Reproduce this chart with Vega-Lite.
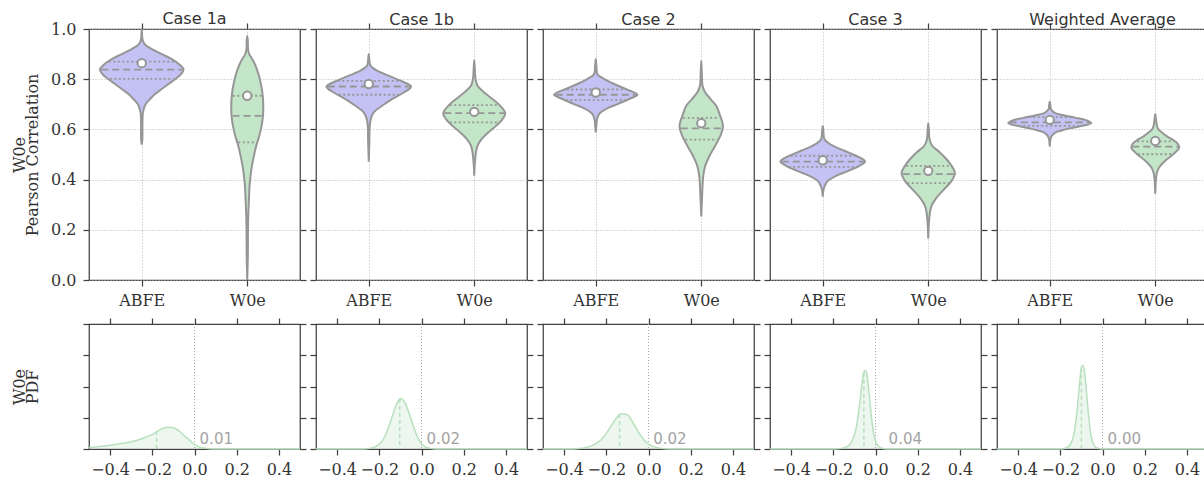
{
"$schema": "https://vega.github.io/schema/vega-lite/v6.json",
"background": "white",
"padding": {"left": 10, "top": 10, "right": 5, "bottom": 5},
"columns": 5,
"bounds": "flush",
"spacing": {"row": 44, "column": 16},
"datasets": {
"vio": [
{"c":"1a","m":"ABFE","y":0.539,"w":0},{"c":"1a","m":"ABFE","y":0.56,"w":0.06},{"c":"1a","m":"ABFE","y":0.62,"w":0.07},{"c":"1a","m":"ABFE","y":0.661,"w":0.1},{"c":"1a","m":"ABFE","y":0.681,"w":0.2},{"c":"1a","m":"ABFE","y":0.701,"w":0.4},{"c":"1a","m":"ABFE","y":0.721,"w":0.83},{"c":"1a","m":"ABFE","y":0.741,"w":1.33},{"c":"1a","m":"ABFE","y":0.761,"w":2},{"c":"1a","m":"ABFE","y":0.781,"w":2.67},{"c":"1a","m":"ABFE","y":0.8,"w":3.33},{"c":"1a","m":"ABFE","y":0.82,"w":3.93},{"c":"1a","m":"ABFE","y":0.84,"w":4.17},{"c":"1a","m":"ABFE","y":0.86,"w":3.73},{"c":"1a","m":"ABFE","y":0.88,"w":3},{"c":"1a","m":"ABFE","y":0.9,"w":2},{"c":"1a","m":"ABFE","y":0.92,"w":1},{"c":"1a","m":"ABFE","y":0.935,"w":0.4},{"c":"1a","m":"ABFE","y":0.947,"w":0.17},{"c":"1a","m":"ABFE","y":0.96,"w":0.07},{"c":"1a","m":"ABFE","y":0.997,"w":0},
{"c":"1a","m":"ABFE","y":0.96,"w":-0.07},{"c":"1a","m":"ABFE","y":0.947,"w":-0.17},{"c":"1a","m":"ABFE","y":0.935,"w":-0.4},{"c":"1a","m":"ABFE","y":0.92,"w":-1},{"c":"1a","m":"ABFE","y":0.9,"w":-2},{"c":"1a","m":"ABFE","y":0.88,"w":-3},{"c":"1a","m":"ABFE","y":0.86,"w":-3.73},{"c":"1a","m":"ABFE","y":0.84,"w":-4.17},{"c":"1a","m":"ABFE","y":0.82,"w":-3.93},{"c":"1a","m":"ABFE","y":0.8,"w":-3.33},{"c":"1a","m":"ABFE","y":0.781,"w":-2.67},{"c":"1a","m":"ABFE","y":0.761,"w":-2},{"c":"1a","m":"ABFE","y":0.741,"w":-1.33},{"c":"1a","m":"ABFE","y":0.721,"w":-0.83},{"c":"1a","m":"ABFE","y":0.701,"w":-0.4},{"c":"1a","m":"ABFE","y":0.681,"w":-0.2},{"c":"1a","m":"ABFE","y":0.661,"w":-0.1},{"c":"1a","m":"ABFE","y":0.62,"w":-0.07},{"c":"1a","m":"ABFE","y":0.56,"w":-0.06},{"c":"1a","m":"ABFE","y":0.539,"w":0},
{"c":"1a","m":"W0e","y":0.0,"w":0},{"c":"1a","m":"W0e","y":0.1,"w":0.06},{"c":"1a","m":"W0e","y":0.189,"w":0.07},{"c":"1a","m":"W0e","y":0.255,"w":0.1},{"c":"1a","m":"W0e","y":0.322,"w":0.17},{"c":"1a","m":"W0e","y":0.375,"w":0.23},{"c":"1a","m":"W0e","y":0.415,"w":0.33},{"c":"1a","m":"W0e","y":0.455,"w":0.47},{"c":"1a","m":"W0e","y":0.495,"w":0.67},{"c":"1a","m":"W0e","y":0.535,"w":0.9},{"c":"1a","m":"W0e","y":0.574,"w":1.2},{"c":"1a","m":"W0e","y":0.614,"w":1.43},{"c":"1a","m":"W0e","y":0.654,"w":1.57},{"c":"1a","m":"W0e","y":0.694,"w":1.6},{"c":"1a","m":"W0e","y":0.734,"w":1.55},{"c":"1a","m":"W0e","y":0.774,"w":1.4},{"c":"1a","m":"W0e","y":0.814,"w":1.17},{"c":"1a","m":"W0e","y":0.854,"w":0.83},{"c":"1a","m":"W0e","y":0.88,"w":0.5},{"c":"1a","m":"W0e","y":0.9,"w":0.2},{"c":"1a","m":"W0e","y":0.92,"w":0.08},{"c":"1a","m":"W0e","y":0.95,"w":0.06},{"c":"1a","m":"W0e","y":0.973,"w":0},
{"c":"1a","m":"W0e","y":0.95,"w":-0.06},{"c":"1a","m":"W0e","y":0.92,"w":-0.08},{"c":"1a","m":"W0e","y":0.9,"w":-0.2},{"c":"1a","m":"W0e","y":0.88,"w":-0.5},{"c":"1a","m":"W0e","y":0.854,"w":-0.83},{"c":"1a","m":"W0e","y":0.814,"w":-1.17},{"c":"1a","m":"W0e","y":0.774,"w":-1.4},{"c":"1a","m":"W0e","y":0.734,"w":-1.55},{"c":"1a","m":"W0e","y":0.694,"w":-1.6},{"c":"1a","m":"W0e","y":0.654,"w":-1.57},{"c":"1a","m":"W0e","y":0.614,"w":-1.43},{"c":"1a","m":"W0e","y":0.574,"w":-1.2},{"c":"1a","m":"W0e","y":0.535,"w":-0.9},{"c":"1a","m":"W0e","y":0.495,"w":-0.67},{"c":"1a","m":"W0e","y":0.455,"w":-0.47},{"c":"1a","m":"W0e","y":0.415,"w":-0.33},{"c":"1a","m":"W0e","y":0.375,"w":-0.23},{"c":"1a","m":"W0e","y":0.322,"w":-0.17},{"c":"1a","m":"W0e","y":0.255,"w":-0.1},{"c":"1a","m":"W0e","y":0.189,"w":-0.07},{"c":"1a","m":"W0e","y":0.1,"w":-0.06},{"c":"1a","m":"W0e","y":0.0,"w":0},
{"c":"1b","m":"ABFE","y":0.471,"w":0},{"c":"1b","m":"ABFE","y":0.55,"w":0.06},{"c":"1b","m":"ABFE","y":0.614,"w":0.1},{"c":"1b","m":"ABFE","y":0.641,"w":0.2},{"c":"1b","m":"ABFE","y":0.668,"w":0.5},{"c":"1b","m":"ABFE","y":0.694,"w":1.33},{"c":"1b","m":"ABFE","y":0.721,"w":2.33},{"c":"1b","m":"ABFE","y":0.747,"w":3.5},{"c":"1b","m":"ABFE","y":0.771,"w":4.23},{"c":"1b","m":"ABFE","y":0.794,"w":3.17},{"c":"1b","m":"ABFE","y":0.814,"w":2},{"c":"1b","m":"ABFE","y":0.834,"w":0.83},{"c":"1b","m":"ABFE","y":0.854,"w":0.17},{"c":"1b","m":"ABFE","y":0.875,"w":0.07},{"c":"1b","m":"ABFE","y":0.9,"w":0},
{"c":"1b","m":"ABFE","y":0.875,"w":-0.07},{"c":"1b","m":"ABFE","y":0.854,"w":-0.17},{"c":"1b","m":"ABFE","y":0.834,"w":-0.83},{"c":"1b","m":"ABFE","y":0.814,"w":-2},{"c":"1b","m":"ABFE","y":0.794,"w":-3.17},{"c":"1b","m":"ABFE","y":0.771,"w":-4.23},{"c":"1b","m":"ABFE","y":0.747,"w":-3.5},{"c":"1b","m":"ABFE","y":0.721,"w":-2.33},{"c":"1b","m":"ABFE","y":0.694,"w":-1.33},{"c":"1b","m":"ABFE","y":0.668,"w":-0.5},{"c":"1b","m":"ABFE","y":0.641,"w":-0.2},{"c":"1b","m":"ABFE","y":0.614,"w":-0.1},{"c":"1b","m":"ABFE","y":0.55,"w":-0.06},{"c":"1b","m":"ABFE","y":0.471,"w":0},
{"c":"1b","m":"W0e","y":0.415,"w":0},{"c":"1b","m":"W0e","y":0.47,"w":0.07},{"c":"1b","m":"W0e","y":0.508,"w":0.17},{"c":"1b","m":"W0e","y":0.535,"w":0.33},{"c":"1b","m":"W0e","y":0.561,"w":0.73},{"c":"1b","m":"W0e","y":0.588,"w":1.4},{"c":"1b","m":"W0e","y":0.614,"w":2.17},{"c":"1b","m":"W0e","y":0.641,"w":2.83},{"c":"1b","m":"W0e","y":0.665,"w":3.1},{"c":"1b","m":"W0e","y":0.694,"w":2.6},{"c":"1b","m":"W0e","y":0.721,"w":1.83},{"c":"1b","m":"W0e","y":0.747,"w":1},{"c":"1b","m":"W0e","y":0.774,"w":0.33},{"c":"1b","m":"W0e","y":0.801,"w":0.13},{"c":"1b","m":"W0e","y":0.84,"w":0.06},{"c":"1b","m":"W0e","y":0.876,"w":0},
{"c":"1b","m":"W0e","y":0.84,"w":-0.06},{"c":"1b","m":"W0e","y":0.801,"w":-0.13},{"c":"1b","m":"W0e","y":0.774,"w":-0.33},{"c":"1b","m":"W0e","y":0.747,"w":-1},{"c":"1b","m":"W0e","y":0.721,"w":-1.83},{"c":"1b","m":"W0e","y":0.694,"w":-2.6},{"c":"1b","m":"W0e","y":0.665,"w":-3.1},{"c":"1b","m":"W0e","y":0.641,"w":-2.83},{"c":"1b","m":"W0e","y":0.614,"w":-2.17},{"c":"1b","m":"W0e","y":0.588,"w":-1.4},{"c":"1b","m":"W0e","y":0.561,"w":-0.73},{"c":"1b","m":"W0e","y":0.535,"w":-0.33},{"c":"1b","m":"W0e","y":0.508,"w":-0.17},{"c":"1b","m":"W0e","y":0.47,"w":-0.07},{"c":"1b","m":"W0e","y":0.415,"w":0},
{"c":"2","m":"ABFE","y":0.588,"w":0},{"c":"2","m":"ABFE","y":0.62,"w":0.07},{"c":"2","m":"ABFE","y":0.641,"w":0.13},{"c":"2","m":"ABFE","y":0.661,"w":0.33},{"c":"2","m":"ABFE","y":0.681,"w":1},{"c":"2","m":"ABFE","y":0.701,"w":2.17},{"c":"2","m":"ABFE","y":0.721,"w":3.33},{"c":"2","m":"ABFE","y":0.738,"w":4.17},{"c":"2","m":"ABFE","y":0.761,"w":3},{"c":"2","m":"ABFE","y":0.781,"w":1.83},{"c":"2","m":"ABFE","y":0.801,"w":0.83},{"c":"2","m":"ABFE","y":0.82,"w":0.17},{"c":"2","m":"ABFE","y":0.85,"w":0.07},{"c":"2","m":"ABFE","y":0.88,"w":0},
{"c":"2","m":"ABFE","y":0.85,"w":-0.07},{"c":"2","m":"ABFE","y":0.82,"w":-0.17},{"c":"2","m":"ABFE","y":0.801,"w":-0.83},{"c":"2","m":"ABFE","y":0.781,"w":-1.83},{"c":"2","m":"ABFE","y":0.761,"w":-3},{"c":"2","m":"ABFE","y":0.738,"w":-4.17},{"c":"2","m":"ABFE","y":0.721,"w":-3.33},{"c":"2","m":"ABFE","y":0.701,"w":-2.17},{"c":"2","m":"ABFE","y":0.681,"w":-1},{"c":"2","m":"ABFE","y":0.661,"w":-0.33},{"c":"2","m":"ABFE","y":0.641,"w":-0.13},{"c":"2","m":"ABFE","y":0.62,"w":-0.07},{"c":"2","m":"ABFE","y":0.588,"w":0},
{"c":"2","m":"W0e","y":0.253,"w":0},{"c":"2","m":"W0e","y":0.32,"w":0.07},{"c":"2","m":"W0e","y":0.375,"w":0.13},{"c":"2","m":"W0e","y":0.415,"w":0.2},{"c":"2","m":"W0e","y":0.455,"w":0.4},{"c":"2","m":"W0e","y":0.495,"w":0.83},{"c":"2","m":"W0e","y":0.535,"w":1.4},{"c":"2","m":"W0e","y":0.574,"w":1.9},{"c":"2","m":"W0e","y":0.614,"w":2.17},{"c":"2","m":"W0e","y":0.661,"w":1.83},{"c":"2","m":"W0e","y":0.694,"w":1.5},{"c":"2","m":"W0e","y":0.721,"w":0.93},{"c":"2","m":"W0e","y":0.747,"w":0.4},{"c":"2","m":"W0e","y":0.774,"w":0.13},{"c":"2","m":"W0e","y":0.82,"w":0.06},{"c":"2","m":"W0e","y":0.874,"w":0},
{"c":"2","m":"W0e","y":0.82,"w":-0.06},{"c":"2","m":"W0e","y":0.774,"w":-0.13},{"c":"2","m":"W0e","y":0.747,"w":-0.4},{"c":"2","m":"W0e","y":0.721,"w":-0.93},{"c":"2","m":"W0e","y":0.694,"w":-1.5},{"c":"2","m":"W0e","y":0.661,"w":-1.83},{"c":"2","m":"W0e","y":0.614,"w":-2.17},{"c":"2","m":"W0e","y":0.574,"w":-1.9},{"c":"2","m":"W0e","y":0.535,"w":-1.4},{"c":"2","m":"W0e","y":0.495,"w":-0.83},{"c":"2","m":"W0e","y":0.455,"w":-0.4},{"c":"2","m":"W0e","y":0.415,"w":-0.2},{"c":"2","m":"W0e","y":0.375,"w":-0.13},{"c":"2","m":"W0e","y":0.32,"w":-0.07},{"c":"2","m":"W0e","y":0.253,"w":0},
{"c":"3","m":"ABFE","y":0.332,"w":0},{"c":"3","m":"ABFE","y":0.36,"w":0.08},{"c":"3","m":"ABFE","y":0.375,"w":0.2},{"c":"3","m":"ABFE","y":0.395,"w":0.5},{"c":"3","m":"ABFE","y":0.415,"w":1.33},{"c":"3","m":"ABFE","y":0.434,"w":2.5},{"c":"3","m":"ABFE","y":0.455,"w":3.67},{"c":"3","m":"ABFE","y":0.472,"w":4.23},{"c":"3","m":"ABFE","y":0.495,"w":3.33},{"c":"3","m":"ABFE","y":0.515,"w":2.17},{"c":"3","m":"ABFE","y":0.535,"w":1},{"c":"3","m":"ABFE","y":0.561,"w":0.17},{"c":"3","m":"ABFE","y":0.59,"w":0.07},{"c":"3","m":"ABFE","y":0.614,"w":0},
{"c":"3","m":"ABFE","y":0.59,"w":-0.07},{"c":"3","m":"ABFE","y":0.561,"w":-0.17},{"c":"3","m":"ABFE","y":0.535,"w":-1},{"c":"3","m":"ABFE","y":0.515,"w":-2.17},{"c":"3","m":"ABFE","y":0.495,"w":-3.33},{"c":"3","m":"ABFE","y":0.472,"w":-4.23},{"c":"3","m":"ABFE","y":0.455,"w":-3.67},{"c":"3","m":"ABFE","y":0.434,"w":-2.5},{"c":"3","m":"ABFE","y":0.415,"w":-1.33},{"c":"3","m":"ABFE","y":0.395,"w":-0.5},{"c":"3","m":"ABFE","y":0.375,"w":-0.2},{"c":"3","m":"ABFE","y":0.36,"w":-0.08},{"c":"3","m":"ABFE","y":0.332,"w":0},
{"c":"3","m":"W0e","y":0.165,"w":0},{"c":"3","m":"W0e","y":0.23,"w":0.07},{"c":"3","m":"W0e","y":0.269,"w":0.17},{"c":"3","m":"W0e","y":0.295,"w":0.33},{"c":"3","m":"W0e","y":0.328,"w":0.83},{"c":"3","m":"W0e","y":0.362,"w":1.6},{"c":"3","m":"W0e","y":0.395,"w":2.33},{"c":"3","m":"W0e","y":0.426,"w":2.67},{"c":"3","m":"W0e","y":0.455,"w":2.33},{"c":"3","m":"W0e","y":0.481,"w":1.83},{"c":"3","m":"W0e","y":0.508,"w":1.17},{"c":"3","m":"W0e","y":0.535,"w":0.4},{"c":"3","m":"W0e","y":0.561,"w":0.13},{"c":"3","m":"W0e","y":0.6,"w":0.06},{"c":"3","m":"W0e","y":0.625,"w":0},
{"c":"3","m":"W0e","y":0.6,"w":-0.06},{"c":"3","m":"W0e","y":0.561,"w":-0.13},{"c":"3","m":"W0e","y":0.535,"w":-0.4},{"c":"3","m":"W0e","y":0.508,"w":-1.17},{"c":"3","m":"W0e","y":0.481,"w":-1.83},{"c":"3","m":"W0e","y":0.455,"w":-2.33},{"c":"3","m":"W0e","y":0.426,"w":-2.67},{"c":"3","m":"W0e","y":0.395,"w":-2.33},{"c":"3","m":"W0e","y":0.362,"w":-1.6},{"c":"3","m":"W0e","y":0.328,"w":-0.83},{"c":"3","m":"W0e","y":0.295,"w":-0.33},{"c":"3","m":"W0e","y":0.269,"w":-0.17},{"c":"3","m":"W0e","y":0.23,"w":-0.07},{"c":"3","m":"W0e","y":0.165,"w":0},
{"c":"W","m":"ABFE","y":0.532,"w":0},{"c":"W","m":"ABFE","y":0.56,"w":0.07},{"c":"W","m":"ABFE","y":0.574,"w":0.2},{"c":"W","m":"ABFE","y":0.588,"w":0.6},{"c":"W","m":"ABFE","y":0.6,"w":1.6},{"c":"W","m":"ABFE","y":0.612,"w":3},{"c":"W","m":"ABFE","y":0.625,"w":4.15},{"c":"W","m":"ABFE","y":0.636,"w":3.7},{"c":"W","m":"ABFE","y":0.646,"w":2.6},{"c":"W","m":"ABFE","y":0.656,"w":1.4},{"c":"W","m":"ABFE","y":0.666,"w":0.5},{"c":"W","m":"ABFE","y":0.68,"w":0.12},{"c":"W","m":"ABFE","y":0.695,"w":0.07},{"c":"W","m":"ABFE","y":0.71,"w":0},
{"c":"W","m":"ABFE","y":0.695,"w":-0.07},{"c":"W","m":"ABFE","y":0.68,"w":-0.12},{"c":"W","m":"ABFE","y":0.666,"w":-0.5},{"c":"W","m":"ABFE","y":0.656,"w":-1.4},{"c":"W","m":"ABFE","y":0.646,"w":-2.6},{"c":"W","m":"ABFE","y":0.636,"w":-3.7},{"c":"W","m":"ABFE","y":0.625,"w":-4.15},{"c":"W","m":"ABFE","y":0.612,"w":-3},{"c":"W","m":"ABFE","y":0.6,"w":-1.6},{"c":"W","m":"ABFE","y":0.588,"w":-0.6},{"c":"W","m":"ABFE","y":0.574,"w":-0.2},{"c":"W","m":"ABFE","y":0.56,"w":-0.07},{"c":"W","m":"ABFE","y":0.532,"w":0},
{"c":"W","m":"W0e","y":0.344,"w":0},{"c":"W","m":"W0e","y":0.4,"w":0.07},{"c":"W","m":"W0e","y":0.428,"w":0.17},{"c":"W","m":"W0e","y":0.449,"w":0.4},{"c":"W","m":"W0e","y":0.475,"w":1},{"c":"W","m":"W0e","y":0.502,"w":1.83},{"c":"W","m":"W0e","y":0.528,"w":2.4},{"c":"W","m":"W0e","y":0.545,"w":2.2},{"c":"W","m":"W0e","y":0.561,"w":1.67},{"c":"W","m":"W0e","y":0.574,"w":1.1},{"c":"W","m":"W0e","y":0.588,"w":0.67},{"c":"W","m":"W0e","y":0.601,"w":0.3},{"c":"W","m":"W0e","y":0.614,"w":0.17},{"c":"W","m":"W0e","y":0.64,"w":0.07},{"c":"W","m":"W0e","y":0.661,"w":0},
{"c":"W","m":"W0e","y":0.64,"w":-0.07},{"c":"W","m":"W0e","y":0.614,"w":-0.17},{"c":"W","m":"W0e","y":0.601,"w":-0.3},{"c":"W","m":"W0e","y":0.588,"w":-0.67},{"c":"W","m":"W0e","y":0.574,"w":-1.1},{"c":"W","m":"W0e","y":0.561,"w":-1.67},{"c":"W","m":"W0e","y":0.545,"w":-2.2},{"c":"W","m":"W0e","y":0.528,"w":-2.4},{"c":"W","m":"W0e","y":0.502,"w":-1.83},{"c":"W","m":"W0e","y":0.475,"w":-1},{"c":"W","m":"W0e","y":0.449,"w":-0.4},{"c":"W","m":"W0e","y":0.428,"w":-0.17},{"c":"W","m":"W0e","y":0.4,"w":-0.07},{"c":"W","m":"W0e","y":0.344,"w":0}
],
"qt": [
{"c":"1a","m":"ABFE","k":"q3","y":0.87,"w":-3.3},{"c":"1a","m":"ABFE","k":"q3","y":0.87,"w":3.3},{"c":"1a","m":"ABFE","k":"md","y":0.838,"w":-4.05},{"c":"1a","m":"ABFE","k":"md","y":0.838,"w":4.05},{"c":"1a","m":"ABFE","k":"q1","y":0.801,"w":-3.2},{"c":"1a","m":"ABFE","k":"q1","y":0.801,"w":3.2},
{"c":"1a","m":"W0e","k":"q3","y":0.734,"w":-1.45},{"c":"1a","m":"W0e","k":"q3","y":0.734,"w":1.45},{"c":"1a","m":"W0e","k":"md","y":0.654,"w":-1.47},{"c":"1a","m":"W0e","k":"md","y":0.654,"w":1.47},{"c":"1a","m":"W0e","k":"q1","y":0.548,"w":-0.9},{"c":"1a","m":"W0e","k":"q1","y":0.548,"w":0.9},
{"c":"1b","m":"ABFE","k":"q3","y":0.793,"w":-3.1},{"c":"1b","m":"ABFE","k":"q3","y":0.793,"w":3.1},{"c":"1b","m":"ABFE","k":"md","y":0.771,"w":-4.1},{"c":"1b","m":"ABFE","k":"md","y":0.771,"w":4.1},{"c":"1b","m":"ABFE","k":"q1","y":0.738,"w":-3},{"c":"1b","m":"ABFE","k":"q1","y":0.738,"w":3},
{"c":"1b","m":"W0e","k":"q3","y":0.697,"w":-2.45},{"c":"1b","m":"W0e","k":"q3","y":0.697,"w":2.45},{"c":"1b","m":"W0e","k":"md","y":0.665,"w":-3},{"c":"1b","m":"W0e","k":"md","y":0.665,"w":3},{"c":"1b","m":"W0e","k":"q1","y":0.628,"w":-2.45},{"c":"1b","m":"W0e","k":"q1","y":0.628,"w":2.45},
{"c":"2","m":"ABFE","k":"q3","y":0.759,"w":-2.9},{"c":"2","m":"ABFE","k":"q3","y":0.759,"w":2.9},{"c":"2","m":"ABFE","k":"md","y":0.738,"w":-4},{"c":"2","m":"ABFE","k":"md","y":0.738,"w":4},{"c":"2","m":"ABFE","k":"q1","y":0.717,"w":-3},{"c":"2","m":"ABFE","k":"q1","y":0.717,"w":3},
{"c":"2","m":"W0e","k":"q3","y":0.646,"w":-1.8},{"c":"2","m":"W0e","k":"q3","y":0.646,"w":1.8},{"c":"2","m":"W0e","k":"md","y":0.604,"w":-2.05},{"c":"2","m":"W0e","k":"md","y":0.604,"w":2.05},{"c":"2","m":"W0e","k":"q1","y":0.559,"w":-1.6},{"c":"2","m":"W0e","k":"q1","y":0.559,"w":1.6},
{"c":"3","m":"ABFE","k":"q3","y":0.495,"w":-3.2},{"c":"3","m":"ABFE","k":"q3","y":0.495,"w":3.2},{"c":"3","m":"ABFE","k":"md","y":0.472,"w":-4.1},{"c":"3","m":"ABFE","k":"md","y":0.472,"w":4.1},{"c":"3","m":"ABFE","k":"q1","y":0.451,"w":-3.4},{"c":"3","m":"ABFE","k":"q1","y":0.451,"w":3.4},
{"c":"3","m":"W0e","k":"q3","y":0.455,"w":-2.2},{"c":"3","m":"W0e","k":"q3","y":0.455,"w":2.2},{"c":"3","m":"W0e","k":"md","y":0.422,"w":-2.55},{"c":"3","m":"W0e","k":"md","y":0.422,"w":2.55},{"c":"3","m":"W0e","k":"q1","y":0.386,"w":-2.1},{"c":"3","m":"W0e","k":"q1","y":0.386,"w":2.1},
{"c":"W","m":"ABFE","k":"q3","y":0.649,"w":-2.1},{"c":"W","m":"ABFE","k":"q3","y":0.649,"w":2.1},{"c":"W","m":"ABFE","k":"md","y":0.628,"w":-4},{"c":"W","m":"ABFE","k":"md","y":0.628,"w":4},{"c":"W","m":"ABFE","k":"q1","y":0.614,"w":-3.1},{"c":"W","m":"ABFE","k":"q1","y":0.614,"w":3.1},
{"c":"W","m":"W0e","k":"q3","y":0.552,"w":-1.8},{"c":"W","m":"W0e","k":"q3","y":0.552,"w":1.8},{"c":"W","m":"W0e","k":"md","y":0.531,"w":-2.3},{"c":"W","m":"W0e","k":"md","y":0.531,"w":2.3},{"c":"W","m":"W0e","k":"q1","y":0.501,"w":-1.75},{"c":"W","m":"W0e","k":"q1","y":0.501,"w":1.75}
],
"mean": [
{"c":"1a","m":"ABFE","y":0.864},{"c":"1a","m":"W0e","y":0.734},{"c":"1b","m":"ABFE","y":0.781},{"c":"1b","m":"W0e","y":0.67},{"c":"2","m":"ABFE","y":0.747},{"c":"2","m":"W0e","y":0.625},{"c":"3","m":"ABFE","y":0.477},{"c":"3","m":"W0e","y":0.435},{"c":"W","m":"ABFE","y":0.638},{"c":"W","m":"W0e","y":0.554}
],
"pdf": [
{"c":"1a","x":-0.5,"d":0.05},{"c":"1a","x":-0.45,"d":0.08},{"c":"1a","x":-0.4,"d":0.12},{"c":"1a","x":-0.35,"d":0.17},{"c":"1a","x":-0.3,"d":0.23},{"c":"1a","x":-0.25,"d":0.33},{"c":"1a","x":-0.2,"d":0.47},{"c":"1a","x":-0.16,"d":0.63},{"c":"1a","x":-0.13,"d":0.7},{"c":"1a","x":-0.1,"d":0.68},{"c":"1a","x":-0.07,"d":0.56},{"c":"1a","x":-0.04,"d":0.38},{"c":"1a","x":-0.02,"d":0.26},{"c":"1a","x":0,"d":0.15},{"c":"1a","x":0.02,"d":0.07},{"c":"1a","x":0.04,"d":0.03},{"c":"1a","x":0.07,"d":0.01},{"c":"1a","x":0.1,"d":0},{"c":"1a","x":0.5,"d":0},
{"c":"1b","x":-0.5,"d":0},{"c":"1b","x":-0.3,"d":0},{"c":"1b","x":-0.26,"d":0.01},{"c":"1b","x":-0.22,"d":0.07},{"c":"1b","x":-0.2,"d":0.15},{"c":"1b","x":-0.18,"d":0.32},{"c":"1b","x":-0.16,"d":0.62},{"c":"1b","x":-0.14,"d":1.02},{"c":"1b","x":-0.12,"d":1.4},{"c":"1b","x":-0.1,"d":1.62},{"c":"1b","x":-0.08,"d":1.5},{"c":"1b","x":-0.06,"d":1.17},{"c":"1b","x":-0.04,"d":0.76},{"c":"1b","x":-0.02,"d":0.4},{"c":"1b","x":0,"d":0.17},{"c":"1b","x":0.02,"d":0.06},{"c":"1b","x":0.04,"d":0.02},{"c":"1b","x":0.07,"d":0},{"c":"1b","x":0.5,"d":0},
{"c":"2","x":-0.5,"d":0},{"c":"2","x":-0.38,"d":0},{"c":"2","x":-0.34,"d":0.01},{"c":"2","x":-0.3,"d":0.04},{"c":"2","x":-0.26,"d":0.13},{"c":"2","x":-0.22,"d":0.33},{"c":"2","x":-0.19,"d":0.6},{"c":"2","x":-0.16,"d":0.91},{"c":"2","x":-0.13,"d":1.13},{"c":"2","x":-0.1,"d":1.1},{"c":"2","x":-0.08,"d":0.92},{"c":"2","x":-0.06,"d":0.68},{"c":"2","x":-0.04,"d":0.46},{"c":"2","x":-0.02,"d":0.28},{"c":"2","x":0,"d":0.16},{"c":"2","x":0.03,"d":0.06},{"c":"2","x":0.06,"d":0.02},{"c":"2","x":0.1,"d":0},{"c":"2","x":0.5,"d":0},
{"c":"3","x":-0.5,"d":0},{"c":"3","x":-0.2,"d":0},{"c":"3","x":-0.16,"d":0.02},{"c":"3","x":-0.13,"d":0.09},{"c":"3","x":-0.11,"d":0.28},{"c":"3","x":-0.09,"d":0.72},{"c":"3","x":-0.075,"d":1.45},{"c":"3","x":-0.065,"d":2.03},{"c":"3","x":-0.055,"d":2.47},{"c":"3","x":-0.048,"d":2.52},{"c":"3","x":-0.04,"d":2.35},{"c":"3","x":-0.03,"d":1.75},{"c":"3","x":-0.02,"d":1.07},{"c":"3","x":-0.01,"d":0.55},{"c":"3","x":0,"d":0.27},{"c":"3","x":0.01,"d":0.12},{"c":"3","x":0.02,"d":0.06},{"c":"3","x":0.04,"d":0.01},{"c":"3","x":0.06,"d":0},{"c":"3","x":0.5,"d":0},
{"c":"W","x":-0.5,"d":0},{"c":"W","x":-0.2,"d":0},{"c":"W","x":-0.17,"d":0.04},{"c":"W","x":-0.15,"d":0.17},{"c":"W","x":-0.135,"d":0.5},{"c":"W","x":-0.12,"d":1.25},{"c":"W","x":-0.11,"d":2},{"c":"W","x":-0.1,"d":2.6},{"c":"W","x":-0.093,"d":2.68},{"c":"W","x":-0.085,"d":2.45},{"c":"W","x":-0.075,"d":1.75},{"c":"W","x":-0.065,"d":1},{"c":"W","x":-0.055,"d":0.45},{"c":"W","x":-0.045,"d":0.18},{"c":"W","x":-0.035,"d":0.07},{"c":"W","x":-0.02,"d":0.02},{"c":"W","x":0,"d":0},{"c":"W","x":0.5,"d":0}
],
"mode": [
{"c":"1a","x":-0.18,"d":0.58},{"c":"1b","x":-0.103,"d":1.6},{"c":"2","x":-0.137,"d":1.12},{"c":"3","x":-0.055,"d":2.45},{"c":"W","x":-0.1,"d":2.6}
],
"frac": [
{"c":"1a","tx":0.024,"t":"0.01"},{"c":"1b","tx":0.024,"t":"0.02"},{"c":"2","tx":0.022,"t":"0.02"},{"c":"3","tx":0.062,"t":"0.04"},{"c":"W","tx":0.024,"t":"0.00"}
]
},
"concat": [
{"width":211,"height":251,"title":"Case 1a","resolve":{"axis":{"x":"independent","y":"independent"}},"layer":[
{"data":{"name":"vio"},"transform":[{"filter":{"field":"c","equal":"1a"}}],"mark":{"type":"line","interpolate":"catmull-rom","stroke":"#969696","strokeWidth":2,"strokeJoin":"round"},
"encoding":{"x":{"field":"m","type":"nominal","scale":{"type":"point","domain":["ABFE","W0e"],"padding":0.5},"axis":{"orient":"bottom","title":null,"labelAngle":0,"grid":true}},
"xOffset":{"field":"w","type":"quantitative","scale":{"domain":[-10,10],"range":[-100,100]}},
"y":{"field":"y","type":"quantitative","scale":{"domain":[0,1]},"axis":{"orient":"left","values":[0,0.2,0.4,0.6,0.8,1],"format":".1f","grid":true,"labelPadding":7,"title":["W0e","Pearson Correlation"],"titlePadding":10,"titleLineHeight":13}},
"fill":{"field":"m","type":"nominal","scale":{"domain":["ABFE","W0e"],"range":["#c4c2f4","#c3e6c9"]},"legend":null},
"detail":{"field":"m"},"order":{"value":null}}},
{"data":{"name":"qt"},"transform":[{"filter":{"field":"c","equal":"1a"}}],"mark":{"type":"line","stroke":"#969696","strokeWidth":1.8},
"encoding":{"x":{"field":"m","type":"nominal","scale":{"type":"point","domain":["ABFE","W0e"],"padding":0.5},"axis":null},"xOffset":{"field":"w","type":"quantitative","scale":{"domain":[-10,10],"range":[-100,100]}},"y":{"field":"y","type":"quantitative","axis":null},"detail":[{"field":"m"},{"field":"k"}],"strokeDash":{"field":"k","type":"nominal","scale":{"domain":["q1","md","q3"],"range":[[2,2.5],[7,4],[2,2.5]]},"legend":null}}},
{"data":{"name":"mean"},"transform":[{"filter":{"field":"c","equal":"1a"}}],"mark":{"type":"point","filled":true,"fill":"white","stroke":"#969696","strokeWidth":2,"size":70,"opacity":1},
"encoding":{"x":{"field":"m","type":"nominal","scale":{"type":"point","domain":["ABFE","W0e"],"padding":0.5},"axis":{"orient":"top","labels":false,"title":null,"grid":false}},"y":{"field":"y","type":"quantitative","axis":{"orient":"right","values":[0,0.2,0.4,0.6,0.8,1],"labels":false,"title":null,"grid":false}}}}
]},
{"width":211,"height":251,"title":"Case 1b","resolve":{"axis":{"x":"independent","y":"independent"}},"layer":[
{"data":{"name":"vio"},"transform":[{"filter":{"field":"c","equal":"1b"}}],"mark":{"type":"line","interpolate":"catmull-rom","stroke":"#969696","strokeWidth":2,"strokeJoin":"round"},
"encoding":{"x":{"field":"m","type":"nominal","scale":{"type":"point","domain":["ABFE","W0e"],"padding":0.5},"axis":{"orient":"bottom","title":null,"labelAngle":0,"grid":true}},
"xOffset":{"field":"w","type":"quantitative","scale":{"domain":[-10,10],"range":[-100,100]}},
"y":{"field":"y","type":"quantitative","scale":{"domain":[0,1]},"axis":{"orient":"left","values":[0,0.2,0.4,0.6,0.8,1],"grid":true,"labels":false,"title":null}},
"fill":{"field":"m","type":"nominal","scale":{"domain":["ABFE","W0e"],"range":["#c4c2f4","#c3e6c9"]},"legend":null},
"detail":{"field":"m"},"order":{"value":null}}},
{"data":{"name":"qt"},"transform":[{"filter":{"field":"c","equal":"1b"}}],"mark":{"type":"line","stroke":"#969696","strokeWidth":1.8},
"encoding":{"x":{"field":"m","type":"nominal","scale":{"type":"point","domain":["ABFE","W0e"],"padding":0.5},"axis":null},"xOffset":{"field":"w","type":"quantitative","scale":{"domain":[-10,10],"range":[-100,100]}},"y":{"field":"y","type":"quantitative","axis":null},"detail":[{"field":"m"},{"field":"k"}],"strokeDash":{"field":"k","type":"nominal","scale":{"domain":["q1","md","q3"],"range":[[2,2.5],[7,4],[2,2.5]]},"legend":null}}},
{"data":{"name":"mean"},"transform":[{"filter":{"field":"c","equal":"1b"}}],"mark":{"type":"point","filled":true,"fill":"white","stroke":"#969696","strokeWidth":2,"size":70,"opacity":1},
"encoding":{"x":{"field":"m","type":"nominal","scale":{"type":"point","domain":["ABFE","W0e"],"padding":0.5},"axis":{"orient":"top","labels":false,"title":null,"grid":false}},"y":{"field":"y","type":"quantitative","axis":{"orient":"right","values":[0,0.2,0.4,0.6,0.8,1],"labels":false,"title":null,"grid":false}}}}
]},
{"width":211,"height":251,"title":"Case 2","resolve":{"axis":{"x":"independent","y":"independent"}},"layer":[
{"data":{"name":"vio"},"transform":[{"filter":{"field":"c","equal":"2"}}],"mark":{"type":"line","interpolate":"catmull-rom","stroke":"#969696","strokeWidth":2,"strokeJoin":"round"},
"encoding":{"x":{"field":"m","type":"nominal","scale":{"type":"point","domain":["ABFE","W0e"],"padding":0.5},"axis":{"orient":"bottom","title":null,"labelAngle":0,"grid":true}},
"xOffset":{"field":"w","type":"quantitative","scale":{"domain":[-10,10],"range":[-100,100]}},
"y":{"field":"y","type":"quantitative","scale":{"domain":[0,1]},"axis":{"orient":"left","values":[0,0.2,0.4,0.6,0.8,1],"grid":true,"labels":false,"title":null}},
"fill":{"field":"m","type":"nominal","scale":{"domain":["ABFE","W0e"],"range":["#c4c2f4","#c3e6c9"]},"legend":null},
"detail":{"field":"m"},"order":{"value":null}}},
{"data":{"name":"qt"},"transform":[{"filter":{"field":"c","equal":"2"}}],"mark":{"type":"line","stroke":"#969696","strokeWidth":1.8},
"encoding":{"x":{"field":"m","type":"nominal","scale":{"type":"point","domain":["ABFE","W0e"],"padding":0.5},"axis":null},"xOffset":{"field":"w","type":"quantitative","scale":{"domain":[-10,10],"range":[-100,100]}},"y":{"field":"y","type":"quantitative","axis":null},"detail":[{"field":"m"},{"field":"k"}],"strokeDash":{"field":"k","type":"nominal","scale":{"domain":["q1","md","q3"],"range":[[2,2.5],[7,4],[2,2.5]]},"legend":null}}},
{"data":{"name":"mean"},"transform":[{"filter":{"field":"c","equal":"2"}}],"mark":{"type":"point","filled":true,"fill":"white","stroke":"#969696","strokeWidth":2,"size":70,"opacity":1},
"encoding":{"x":{"field":"m","type":"nominal","scale":{"type":"point","domain":["ABFE","W0e"],"padding":0.5},"axis":{"orient":"top","labels":false,"title":null,"grid":false}},"y":{"field":"y","type":"quantitative","axis":{"orient":"right","values":[0,0.2,0.4,0.6,0.8,1],"labels":false,"title":null,"grid":false}}}}
]},
{"width":211,"height":251,"title":"Case 3","resolve":{"axis":{"x":"independent","y":"independent"}},"layer":[
{"data":{"name":"vio"},"transform":[{"filter":{"field":"c","equal":"3"}}],"mark":{"type":"line","interpolate":"catmull-rom","stroke":"#969696","strokeWidth":2,"strokeJoin":"round"},
"encoding":{"x":{"field":"m","type":"nominal","scale":{"type":"point","domain":["ABFE","W0e"],"padding":0.5},"axis":{"orient":"bottom","title":null,"labelAngle":0,"grid":true}},
"xOffset":{"field":"w","type":"quantitative","scale":{"domain":[-10,10],"range":[-100,100]}},
"y":{"field":"y","type":"quantitative","scale":{"domain":[0,1]},"axis":{"orient":"left","values":[0,0.2,0.4,0.6,0.8,1],"grid":true,"labels":false,"title":null}},
"fill":{"field":"m","type":"nominal","scale":{"domain":["ABFE","W0e"],"range":["#c4c2f4","#c3e6c9"]},"legend":null},
"detail":{"field":"m"},"order":{"value":null}}},
{"data":{"name":"qt"},"transform":[{"filter":{"field":"c","equal":"3"}}],"mark":{"type":"line","stroke":"#969696","strokeWidth":1.8},
"encoding":{"x":{"field":"m","type":"nominal","scale":{"type":"point","domain":["ABFE","W0e"],"padding":0.5},"axis":null},"xOffset":{"field":"w","type":"quantitative","scale":{"domain":[-10,10],"range":[-100,100]}},"y":{"field":"y","type":"quantitative","axis":null},"detail":[{"field":"m"},{"field":"k"}],"strokeDash":{"field":"k","type":"nominal","scale":{"domain":["q1","md","q3"],"range":[[2,2.5],[7,4],[2,2.5]]},"legend":null}}},
{"data":{"name":"mean"},"transform":[{"filter":{"field":"c","equal":"3"}}],"mark":{"type":"point","filled":true,"fill":"white","stroke":"#969696","strokeWidth":2,"size":70,"opacity":1},
"encoding":{"x":{"field":"m","type":"nominal","scale":{"type":"point","domain":["ABFE","W0e"],"padding":0.5},"axis":{"orient":"top","labels":false,"title":null,"grid":false}},"y":{"field":"y","type":"quantitative","axis":{"orient":"right","values":[0,0.2,0.4,0.6,0.8,1],"labels":false,"title":null,"grid":false}}}}
]},
{"width":211,"height":251,"title":"Weighted Average","resolve":{"axis":{"x":"independent","y":"independent"}},"layer":[
{"data":{"name":"vio"},"transform":[{"filter":{"field":"c","equal":"W"}}],"mark":{"type":"line","interpolate":"catmull-rom","stroke":"#969696","strokeWidth":2,"strokeJoin":"round"},
"encoding":{"x":{"field":"m","type":"nominal","scale":{"type":"point","domain":["ABFE","W0e"],"padding":0.5},"axis":{"orient":"bottom","title":null,"labelAngle":0,"grid":true}},
"xOffset":{"field":"w","type":"quantitative","scale":{"domain":[-10,10],"range":[-100,100]}},
"y":{"field":"y","type":"quantitative","scale":{"domain":[0,1]},"axis":{"orient":"left","values":[0,0.2,0.4,0.6,0.8,1],"grid":true,"labels":false,"title":null}},
"fill":{"field":"m","type":"nominal","scale":{"domain":["ABFE","W0e"],"range":["#c4c2f4","#c3e6c9"]},"legend":null},
"detail":{"field":"m"},"order":{"value":null}}},
{"data":{"name":"qt"},"transform":[{"filter":{"field":"c","equal":"W"}}],"mark":{"type":"line","stroke":"#969696","strokeWidth":1.8},
"encoding":{"x":{"field":"m","type":"nominal","scale":{"type":"point","domain":["ABFE","W0e"],"padding":0.5},"axis":null},"xOffset":{"field":"w","type":"quantitative","scale":{"domain":[-10,10],"range":[-100,100]}},"y":{"field":"y","type":"quantitative","axis":null},"detail":[{"field":"m"},{"field":"k"}],"strokeDash":{"field":"k","type":"nominal","scale":{"domain":["q1","md","q3"],"range":[[2,2.5],[7,4],[2,2.5]]},"legend":null}}},
{"data":{"name":"mean"},"transform":[{"filter":{"field":"c","equal":"W"}}],"mark":{"type":"point","filled":true,"fill":"white","stroke":"#969696","strokeWidth":2,"size":70,"opacity":1},
"encoding":{"x":{"field":"m","type":"nominal","scale":{"type":"point","domain":["ABFE","W0e"],"padding":0.5},"axis":{"orient":"top","labels":false,"title":null,"grid":false}},"y":{"field":"y","type":"quantitative","axis":{"orient":"right","values":[0,0.2,0.4,0.6,0.8,1],"labels":false,"title":null,"grid":false}}}}
]},
{"width":211,"height":125,"resolve":{"axis":{"x":"independent","y":"independent"}},"layer":[
{"data":{"name":"pdf"},"transform":[{"filter":{"field":"c","equal":"1a"}}],"mark":{"type":"area","interpolate":"monotone","fill":"#c3e6c9","fillOpacity":0.3},
"encoding":{"x":{"field":"x","type":"quantitative","scale":{"domain":[-0.5,0.5]},"axis":{"orient":"bottom","values":[-0.4,-0.2,0,0.2,0.4],"format":".1f","title":null,"grid":false}},"y":{"field":"d","type":"quantitative","scale":{"domain":[0,4]},"axis":{"orient":"left","values":[0,1,2,3,4],"labels":false,"grid":false,"title":["W0e","PDF"],"titlePadding":42,"titleLineHeight":13}}}},
{"data":{"name":"frac"},"transform":[{"filter":{"field":"c","equal":"1a"}}],"mark":{"type":"rule","stroke":"#aaaaaa","strokeDash":[1,2],"strokeWidth":1},"encoding":{"x":{"datum":0,"type":"quantitative","axis":null}}},
{"data":{"name":"pdf"},"transform":[{"filter":{"field":"c","equal":"1a"}}],"mark":{"type":"line","interpolate":"monotone","stroke":"#b8e0be","strokeWidth":1.5},
"encoding":{"x":{"field":"x","type":"quantitative","axis":{"orient":"top","values":[-0.4,-0.2,0,0.2,0.4],"labels":false,"title":null,"grid":false}},"y":{"field":"d","type":"quantitative","axis":{"orient":"right","values":[0,1,2,3,4],"labels":false,"title":null,"grid":false}}}},
{"data":{"name":"mode"},"transform":[{"filter":{"field":"c","equal":"1a"}}],"mark":{"type":"rule","stroke":"#b8e0be","strokeDash":[4,3],"strokeWidth":1.5},
"encoding":{"x":{"field":"x","type":"quantitative","axis":null},"y":{"field":"d","type":"quantitative","axis":null},"y2":{"datum":0}}},
{"data":{"name":"frac"},"transform":[{"filter":{"field":"c","equal":"1a"}}],"mark":{"type":"text","align":"left","baseline":"alphabetic","font":"DejaVu Sans","fontSize":15,"color":"#a3a3a3"},
"encoding":{"x":{"field":"tx","type":"quantitative","axis":null},"y":{"datum":0.17,"type":"quantitative","axis":null},"text":{"field":"t","type":"nominal"}}}
]},
{"width":211,"height":125,"resolve":{"axis":{"x":"independent","y":"independent"}},"layer":[
{"data":{"name":"pdf"},"transform":[{"filter":{"field":"c","equal":"1b"}}],"mark":{"type":"area","interpolate":"monotone","fill":"#c3e6c9","fillOpacity":0.3},
"encoding":{"x":{"field":"x","type":"quantitative","scale":{"domain":[-0.5,0.5]},"axis":{"orient":"bottom","values":[-0.4,-0.2,0,0.2,0.4],"format":".1f","title":null,"grid":false}},"y":{"field":"d","type":"quantitative","scale":{"domain":[0,4]},"axis":{"orient":"left","values":[0,1,2,3,4],"labels":false,"grid":false,"title":null}}}},
{"data":{"name":"frac"},"transform":[{"filter":{"field":"c","equal":"1b"}}],"mark":{"type":"rule","stroke":"#aaaaaa","strokeDash":[1,2],"strokeWidth":1},"encoding":{"x":{"datum":0,"type":"quantitative","axis":null}}},
{"data":{"name":"pdf"},"transform":[{"filter":{"field":"c","equal":"1b"}}],"mark":{"type":"line","interpolate":"monotone","stroke":"#b8e0be","strokeWidth":1.5},
"encoding":{"x":{"field":"x","type":"quantitative","axis":{"orient":"top","values":[-0.4,-0.2,0,0.2,0.4],"labels":false,"title":null,"grid":false}},"y":{"field":"d","type":"quantitative","axis":{"orient":"right","values":[0,1,2,3,4],"labels":false,"title":null,"grid":false}}}},
{"data":{"name":"mode"},"transform":[{"filter":{"field":"c","equal":"1b"}}],"mark":{"type":"rule","stroke":"#b8e0be","strokeDash":[4,3],"strokeWidth":1.5},
"encoding":{"x":{"field":"x","type":"quantitative","axis":null},"y":{"field":"d","type":"quantitative","axis":null},"y2":{"datum":0}}},
{"data":{"name":"frac"},"transform":[{"filter":{"field":"c","equal":"1b"}}],"mark":{"type":"text","align":"left","baseline":"alphabetic","font":"DejaVu Sans","fontSize":15,"color":"#a3a3a3"},
"encoding":{"x":{"field":"tx","type":"quantitative","axis":null},"y":{"datum":0.17,"type":"quantitative","axis":null},"text":{"field":"t","type":"nominal"}}}
]},
{"width":211,"height":125,"resolve":{"axis":{"x":"independent","y":"independent"}},"layer":[
{"data":{"name":"pdf"},"transform":[{"filter":{"field":"c","equal":"2"}}],"mark":{"type":"area","interpolate":"monotone","fill":"#c3e6c9","fillOpacity":0.3},
"encoding":{"x":{"field":"x","type":"quantitative","scale":{"domain":[-0.5,0.5]},"axis":{"orient":"bottom","values":[-0.4,-0.2,0,0.2,0.4],"format":".1f","title":null,"grid":false}},"y":{"field":"d","type":"quantitative","scale":{"domain":[0,4]},"axis":{"orient":"left","values":[0,1,2,3,4],"labels":false,"grid":false,"title":null}}}},
{"data":{"name":"frac"},"transform":[{"filter":{"field":"c","equal":"2"}}],"mark":{"type":"rule","stroke":"#aaaaaa","strokeDash":[1,2],"strokeWidth":1},"encoding":{"x":{"datum":0,"type":"quantitative","axis":null}}},
{"data":{"name":"pdf"},"transform":[{"filter":{"field":"c","equal":"2"}}],"mark":{"type":"line","interpolate":"monotone","stroke":"#b8e0be","strokeWidth":1.5},
"encoding":{"x":{"field":"x","type":"quantitative","axis":{"orient":"top","values":[-0.4,-0.2,0,0.2,0.4],"labels":false,"title":null,"grid":false}},"y":{"field":"d","type":"quantitative","axis":{"orient":"right","values":[0,1,2,3,4],"labels":false,"title":null,"grid":false}}}},
{"data":{"name":"mode"},"transform":[{"filter":{"field":"c","equal":"2"}}],"mark":{"type":"rule","stroke":"#b8e0be","strokeDash":[4,3],"strokeWidth":1.5},
"encoding":{"x":{"field":"x","type":"quantitative","axis":null},"y":{"field":"d","type":"quantitative","axis":null},"y2":{"datum":0}}},
{"data":{"name":"frac"},"transform":[{"filter":{"field":"c","equal":"2"}}],"mark":{"type":"text","align":"left","baseline":"alphabetic","font":"DejaVu Sans","fontSize":15,"color":"#a3a3a3"},
"encoding":{"x":{"field":"tx","type":"quantitative","axis":null},"y":{"datum":0.17,"type":"quantitative","axis":null},"text":{"field":"t","type":"nominal"}}}
]},
{"width":211,"height":125,"resolve":{"axis":{"x":"independent","y":"independent"}},"layer":[
{"data":{"name":"pdf"},"transform":[{"filter":{"field":"c","equal":"3"}}],"mark":{"type":"area","interpolate":"monotone","fill":"#c3e6c9","fillOpacity":0.3},
"encoding":{"x":{"field":"x","type":"quantitative","scale":{"domain":[-0.5,0.5]},"axis":{"orient":"bottom","values":[-0.4,-0.2,0,0.2,0.4],"format":".1f","title":null,"grid":false}},"y":{"field":"d","type":"quantitative","scale":{"domain":[0,4]},"axis":{"orient":"left","values":[0,1,2,3,4],"labels":false,"grid":false,"title":null}}}},
{"data":{"name":"frac"},"transform":[{"filter":{"field":"c","equal":"3"}}],"mark":{"type":"rule","stroke":"#aaaaaa","strokeDash":[1,2],"strokeWidth":1},"encoding":{"x":{"datum":0,"type":"quantitative","axis":null}}},
{"data":{"name":"pdf"},"transform":[{"filter":{"field":"c","equal":"3"}}],"mark":{"type":"line","interpolate":"monotone","stroke":"#b8e0be","strokeWidth":1.5},
"encoding":{"x":{"field":"x","type":"quantitative","axis":{"orient":"top","values":[-0.4,-0.2,0,0.2,0.4],"labels":false,"title":null,"grid":false}},"y":{"field":"d","type":"quantitative","axis":{"orient":"right","values":[0,1,2,3,4],"labels":false,"title":null,"grid":false}}}},
{"data":{"name":"mode"},"transform":[{"filter":{"field":"c","equal":"3"}}],"mark":{"type":"rule","stroke":"#b8e0be","strokeDash":[4,3],"strokeWidth":1.5},
"encoding":{"x":{"field":"x","type":"quantitative","axis":null},"y":{"field":"d","type":"quantitative","axis":null},"y2":{"datum":0}}},
{"data":{"name":"frac"},"transform":[{"filter":{"field":"c","equal":"3"}}],"mark":{"type":"text","align":"left","baseline":"alphabetic","font":"DejaVu Sans","fontSize":15,"color":"#a3a3a3"},
"encoding":{"x":{"field":"tx","type":"quantitative","axis":null},"y":{"datum":0.17,"type":"quantitative","axis":null},"text":{"field":"t","type":"nominal"}}}
]},
{"width":211,"height":125,"resolve":{"axis":{"x":"independent","y":"independent"}},"layer":[
{"data":{"name":"pdf"},"transform":[{"filter":{"field":"c","equal":"W"}}],"mark":{"type":"area","interpolate":"monotone","fill":"#c3e6c9","fillOpacity":0.3},
"encoding":{"x":{"field":"x","type":"quantitative","scale":{"domain":[-0.5,0.5]},"axis":{"orient":"bottom","values":[-0.4,-0.2,0,0.2,0.4],"format":".1f","title":null,"grid":false}},"y":{"field":"d","type":"quantitative","scale":{"domain":[0,4]},"axis":{"orient":"left","values":[0,1,2,3,4],"labels":false,"grid":false,"title":null}}}},
{"data":{"name":"frac"},"transform":[{"filter":{"field":"c","equal":"W"}}],"mark":{"type":"rule","stroke":"#aaaaaa","strokeDash":[1,2],"strokeWidth":1},"encoding":{"x":{"datum":0,"type":"quantitative","axis":null}}},
{"data":{"name":"pdf"},"transform":[{"filter":{"field":"c","equal":"W"}}],"mark":{"type":"line","interpolate":"monotone","stroke":"#b8e0be","strokeWidth":1.5},
"encoding":{"x":{"field":"x","type":"quantitative","axis":{"orient":"top","values":[-0.4,-0.2,0,0.2,0.4],"labels":false,"title":null,"grid":false}},"y":{"field":"d","type":"quantitative","axis":{"orient":"right","values":[0,1,2,3,4],"labels":false,"title":null,"grid":false}}}},
{"data":{"name":"mode"},"transform":[{"filter":{"field":"c","equal":"W"}}],"mark":{"type":"rule","stroke":"#b8e0be","strokeDash":[4,3],"strokeWidth":1.5},
"encoding":{"x":{"field":"x","type":"quantitative","axis":null},"y":{"field":"d","type":"quantitative","axis":null},"y2":{"datum":0}}},
{"data":{"name":"frac"},"transform":[{"filter":{"field":"c","equal":"W"}}],"mark":{"type":"text","align":"left","baseline":"alphabetic","font":"DejaVu Sans","fontSize":15,"color":"#a3a3a3"},
"encoding":{"x":{"field":"tx","type":"quantitative","axis":null},"y":{"datum":0.17,"type":"quantitative","axis":null},"text":{"field":"t","type":"nominal"}}}
]}
],
"config": {
"view": {"stroke": "#404040", "strokeWidth": 1.25},
"axis": {"domain": false, "tickColor": "#404040", "tickWidth": 1.25, "tickSize": 6, "labelFont": "DejaVu Serif", "labelFontSize": 16, "labelColor": "#333333", "labelPadding": 6, "labelOverlap": false, "labelFlush": false, "gridColor": "#b8b8b8", "gridDash": [1,2], "gridWidth": 1, "titleFont": "DejaVu Serif", "titleFontSize": 16, "titleFontWeight": "normal", "titleColor": "#333333"},
"title": {"font": "DejaVu Sans", "fontSize": 16, "fontWeight": "normal", "color": "#333333", "anchor": "middle", "frame": "group", "offset": -6}
}
}
